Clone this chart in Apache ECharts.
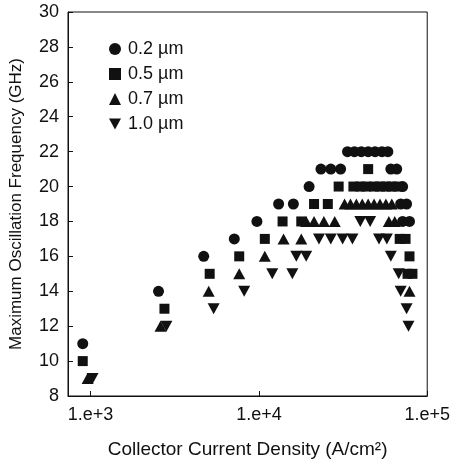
<!DOCTYPE html>
<html><head><meta charset="utf-8">
<script src="https://cdn.jsdelivr.net/npm/echarts@6/dist/echarts.min.js"></script>
<style>html,body{margin:0;padding:0;background:#fff}#c{width:453px;height:464px}</style>
</head><body><div id="c"></div>
<script>
const seriesNames = ['0.2 µm', '0.5 µm', '0.7 µm', '1.0 µm'];
const yTicks = [8, 10, 12, 14, 16, 18, 20, 22, 24, 26, 28, 30];
const xTickExponents = [3, 4, 5];

const jc02 = [898, 2532, 4700, 7140, 9730, 13090, 16020, 19870, 23360, 26730, 30580, 33610, 36930, 40570, 44570, 48980, 53830, 58360, 60770, 65880, 71430, 69530, 75390, 71430, 78460];
const fm02 = [11, 14, 16, 17, 18, 19, 19, 20, 21, 21, 21, 22, 22, 22, 22, 22, 22, 22, 21, 21, 20, 19, 19, 18, 18];

const jc05 = [898, 2746, 5099, 7638, 10840, 13820, 17850, 21260, 25670, 29770, 36430, 40030, 43400, 44570, 48330, 52400, 56800, 61590, 66770, 68600, 74350, 78460, 76380, 81700];
const fm05 = [10, 13, 15, 16, 17, 18, 18, 19, 19, 20, 20, 20, 20, 21, 20, 20, 20, 20, 20, 17, 17, 16, 15, 15];

const jc07 = [960, 2602, 5031, 7638, 10840, 14010, 17850, 19090, 21260, 24320, 28210, 32280, 34990, 37930, 41110, 44570, 48330, 52400, 56800, 61590, 59160, 64120, 78460];
const fm07 = [9, 12, 14, 15, 16, 17, 17, 18, 18, 18, 18, 19, 19, 19, 19, 19, 19, 19, 19, 19, 18, 18, 14];

const jc10 = [1027, 2820, 5383, 8173, 12000, 15800, 16680, 19090, 22740, 26730, 31420, 35940, 40030, 45790, 51680, 57560, 60770, 67680, 69530, 75390, 77400];
const fm10 = [9, 12, 13, 14, 15, 15, 16, 16, 17, 17, 17, 17, 18, 18, 17, 17, 16, 15, 14, 13, 12];

function pairs(xs, ys) { return xs.map((x, i) => [x, ys[i]]); }

const INK = '#111';
const FONT = '"Liberation Sans", Arial, sans-serif';
const invTri = 'path://M0,0 L10,0 L5,9 Z';

const chart = echarts.init(document.getElementById('c'), null, { renderer: 'canvas' });
chart.setOption({
  animation: false,
  backgroundColor: '#fff',
  textStyle: { fontFamily: FONT, color: INK },
  grid: { left: 68, right: 21, top: 12, bottom: 64, show: true, borderColor: INK, borderWidth: 1, backgroundColor: 'transparent' },
  legend: {
    orient: 'vertical', left: 104, top: 35, itemWidth: 12, itemHeight: 12, itemGap: 7,
    textStyle: { fontFamily: FONT, fontSize: 18, color: INK, padding: [0, 0, 0, 2] },
    data: seriesNames.map(n => ({ name: n, itemStyle: { color: INK } })),
    selectedMode: false
  },
  xAxis: {
    type: 'log', logBase: 10, min: 734, max: 100000,
    name: 'Collector Current Density (A/cm²)', nameLocation: 'middle', nameGap: 44,
    nameTextStyle: { fontFamily: FONT, fontSize: 19, color: INK },
    axisLine: { lineStyle: { color: INK, width: 1 } },
    axisTick: { inside: true, length: 5, lineStyle: { color: INK } },
    minorTick: { show: false },
    splitLine: { show: false },
    axisLabel: {
      fontFamily: FONT, fontSize: 18, color: INK, margin: 10, showMinLabel: true, showMaxLabel: true,
      formatter: v => {
        const e = Math.round(Math.log10(v));
        if (Math.abs(Math.log10(v) - e) < 1e-6 && xTickExponents.includes(e)) return '1.e+' + e;
        return '';
      }
    }
  },
  yAxis: {
    type: 'value', min: yTicks[0], max: yTicks[yTicks.length - 1], interval: 2,
    name: 'Maximum Oscillation Frequency (GHz)', nameLocation: 'middle', nameGap: 43,
    nameTextStyle: { fontFamily: FONT, fontSize: 17, color: INK },
    axisLine: { show: true, lineStyle: { color: INK, width: 1 } },
    axisTick: { show: true, inside: true, length: 5, lineStyle: { color: INK } },
    splitLine: { show: false },
    axisLabel: { fontFamily: FONT, fontSize: 18, color: INK, margin: 9 }
  },
  series: [
    { name: seriesNames[0], type: 'scatter', symbol: 'circle', symbolSize: 11, itemStyle: { color: INK, opacity: 1 }, data: pairs(jc02, fm02) },
    { name: seriesNames[1], type: 'scatter', symbol: 'rect', symbolSize: 10, itemStyle: { color: INK, opacity: 1 }, data: pairs(jc05, fm05) },
    { name: seriesNames[2], type: 'scatter', symbol: 'triangle', symbolSize: [12, 11], itemStyle: { color: INK, opacity: 1 }, data: pairs(jc07, fm07) },
    { name: seriesNames[3], type: 'scatter', symbol: invTri, symbolSize: [12, 11], itemStyle: { color: INK, opacity: 1 }, data: pairs(jc10, fm10) }
  ]
});
</script>
</body></html>
